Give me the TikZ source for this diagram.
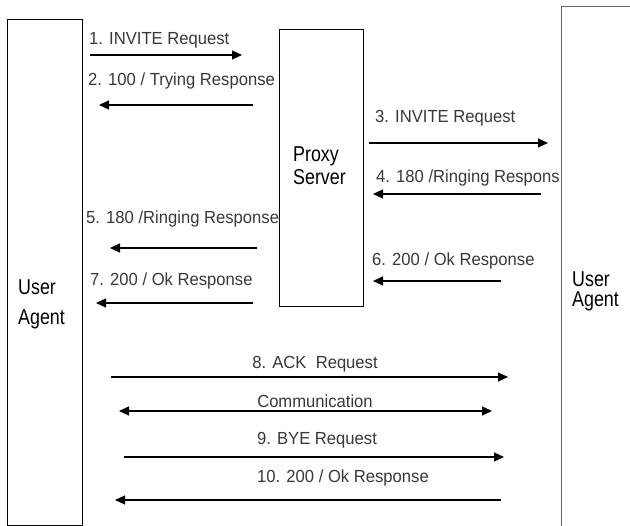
\documentclass[tikz,border=0pt]{standalone}
\usepackage{fontspec}
\setmainfont{Liberation Sans}
\newfontfamily\msgfamily[FakeStretch=0.95]{Liberation Sans}
\newfontfamily\whofamily[FakeStretch=0.83]{Liberation Sans}
\usepackage{tikz}
\usetikzlibrary{arrows.meta, positioning}

\newcommand{\msgfont}{\msgfamily\fontsize{17.5}{20}\selectfont}
\newcommand{\whofont}{\whofamily\fontsize{21.5}{25}\selectfont}

\begin{document}
\begin{tikzpicture}[
    x=1pt, y=-1pt,
    font=\msgfont,
    box/.style={rectangle, draw=black, line width=0.9pt, fill=white,
                anchor=north west, inner sep=0pt},
    who/.style={font=\whofont, align=left, anchor=base west, inner sep=0pt},
    lbl/.style={anchor=base west, inner sep=0pt, text=black!78},
    clbl/.style={anchor=base, inner sep=0pt, text=black!78},
    msg/.style={-{Triangle[length=10pt, width=9pt]}, line width=1.2pt},
    both/.style={{Triangle[length=10pt, width=9pt]}-{Triangle[length=10pt, width=9pt]},
                 line width=1.2pt}
  ]

  \path[use as bounding box, clip] (0,0) rectangle (630,526);

  % the three parties
  \node[box, minimum width=75pt, minimum height=506pt]  (uaL)   at (7,19)  {};
  \node[box, minimum width=84pt, minimum height=277pt]  (proxy) at (279,29) {};
  \node[box, draw=black!60, line width=1.4pt,
        minimum width=100pt, minimum height=540pt]      (uaR)   at (561,6) {};

  % (base anchor = last line)
  \node[who, font=\whofamily\fontsize{21.5}{30}\selectfont] (whoL) at (18,325)  {User\\Agent};
  \node[who, font=\whofamily\fontsize{21.5}{23}\selectfont] (whoP) at (293,185) {Proxy\\Server};
  \node[who, font=\whofamily\fontsize{21.5}{20}\selectfont] (whoR) at (572,307) {User\\Agent};

  % message labels
  \node[lbl]  (t1)  at (89,45)   {1. INVITE Request};
  \node[lbl]  (t2)  at (88,86)   {2. 100 / Trying Response};
  \node[lbl]  (t3)  at (375,123) {3. INVITE Request};
  \node[lbl]  (t4)  at (376,183) {4. 180 /Ringing Respons};
  \node[lbl]  (t5)  at (86,224)  {5. 180 /Ringing Response};
  \node[lbl]  (t6)  at (372,266) {6. 200 / Ok Response};
  \node[lbl]  (t7)  at (90,286)  {7. 200 / Ok Response};
  \node[clbl] (t8)  at (315,369) {8. ACK\ \ Request};
  \node[clbl] (tc)  at (315,408) {Communication};
  \node[clbl] (t9)  at (317,445) {9. BYE Request};
  \node[clbl] (t10) at (343,483) {10. 200 / Ok Response};

  % arrow ends
  \coordinate (s1)  at (90,55);   \coordinate (e1)  at (242,55);
  \coordinate (s2)  at (253,105); \coordinate (e2)  at (99,105);
  \coordinate (s3)  at (369,143); \coordinate (e3)  at (548,143);
  \coordinate (s4)  at (541,194); \coordinate (e4)  at (373,194);
  \coordinate (s5)  at (257,248); \coordinate (e5)  at (110,248);
  \coordinate (s6)  at (501,281); \coordinate (e6)  at (373,281);
  \coordinate (s7)  at (253,303); \coordinate (e7)  at (96,303);
  \coordinate (s8)  at (111,377); \coordinate (e8)  at (508,377);
  \coordinate (cs)  at (119,411); \coordinate (ce)  at (492,411);
  \coordinate (s9)  at (124,457); \coordinate (e9)  at (504,457);
  \coordinate (s10) at (501,500); \coordinate (e10) at (115,500);

  \foreach \i in {1,...,10}
    \draw[msg] (s\i) -- (e\i);

  \draw[both] (cs) -- (ce);

\end{tikzpicture}
\end{document}
